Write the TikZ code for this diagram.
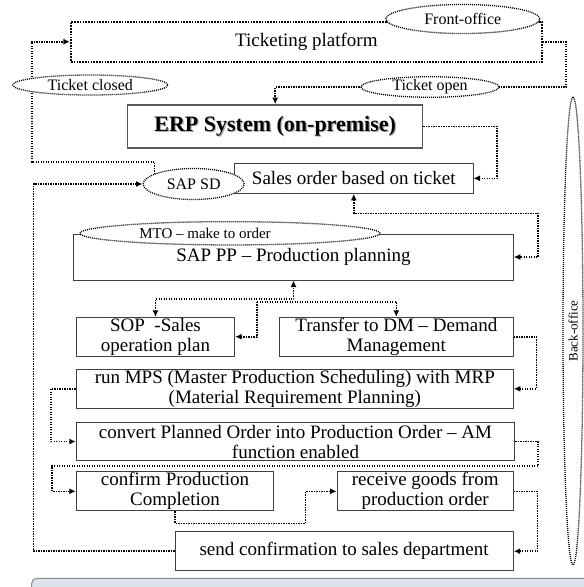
\documentclass[tikz,border=0pt]{standalone}
\usepackage{fontspec}
\setmainfont{Liberation Serif}
\usetikzlibrary{arrows.meta,shapes.geometric,backgrounds}
\definecolor{barfill}{RGB}{220,227,236}
\begin{document}
\begin{tikzpicture}[x=1pt,y=-1pt,
  con/.style={line width=1.6pt, dash pattern=on 1.4pt off 1.1pt, black},
  arr/.style={con, -{Latex[length=6.5pt,width=6pt]}},
  arrb/.style={con, {Latex[length=6.5pt,width=6pt]}-{Latex[length=6.5pt,width=6pt]}},
  box/.style={rectangle, draw=black!75, line width=1pt, fill=white, inner sep=0pt, align=center, font=\fontsize{19}{20}\selectfont},
  oval/.style={ellipse, draw=black, fill=white, line width=1.3pt, dash pattern=on 1pt off 1pt, inner sep=0pt, font=\fontsize{16}{18}\selectfont},
]
\useasboundingbox (0,0) rectangle (584,587);

% nodes
\node[box, draw=black, line width=2pt, dash pattern=on 1.6pt off 1.2pt, minimum width=471pt, minimum height=40pt] (tp) at (306.4,41.7) {Ticketing platform};
\node[oval, minimum width=154pt, minimum height=29pt] (fo) at (462.8,19) {Front-office};
\node[oval, minimum width=155pt, minimum height=20pt] (tc) at (90.3,85) {Ticket closed};
\node[oval, minimum width=138pt, minimum height=20pt] (to) at (430,87) {Ticket open};
\node[box, draw=black!65, line width=1.4pt, minimum width=295pt, minimum height=43pt, font=\fontsize{22}{24}\selectfont\bfseries] (erp) at (275.2,126.4)
  {\makebox[0pt][l]{\hspace{1.2pt}\raisebox{-1.2pt}{\color{black!30}ERP System (on-premise)}}ERP System (on-premise)};
\node[box, minimum width=238.4pt, minimum height=30pt] (so) at (353.8,178.3) {Sales order based on ticket};
\node[oval, minimum width=101pt, minimum height=31pt] (sd) at (193.7,184) {SAP SD};
\node[box, minimum width=439.5pt, minimum height=46pt] (pp) at (293.5,257) {SAP PP – Production planning};
\node[oval, font=\fontsize{15}{17}\selectfont, minimum width=300pt, minimum height=23.3pt] (mto) at (230,233.3) {MTO – make to order\hspace*{50pt}};
\node[box, minimum width=158.3pt, minimum height=38.7pt] (sop) at (155.5,336.7) {SOP\ \ -Sales\\operation plan};
\node[box, minimum width=234pt, minimum height=38.7pt] (dm) at (396.3,336.7) {Transfer to DM – Demand\\Management};
\node[box, minimum width=437pt, minimum height=39pt] (mps) at (294.8,388.8) {run MPS (Master Production Scheduling) with MRP\\(Material Requirement Planning)};
\node[box, minimum width=438.4pt, minimum height=38.4pt] (conv) at (295.5,441.5) {convert Planned Order into Production Order – AM\\function enabled};
\node[box, minimum width=197.4pt, minimum height=39.3pt] (conf) at (175,491.3) {confirm Production\\Completion};
\node[box, minimum width=176.1pt, minimum height=39.3pt] (recv) at (425.2,491.3) {receive goods from\\production order};
\node[box, minimum width=338.2pt, minimum height=39pt] (send) at (344.1,551.2) {send confirmation to sales department};
\node[oval, font=\fontsize{13}{15}\selectfont, rotate=90, minimum width=468pt, minimum height=20pt] (bo) at (573,331) {Back-office};

% connectors
\begin{scope}[on background layer]
\coordinate (a1) at (154.6,161.7);
\coordinate (a2) at (31.7,41.7);
\draw[arr] (sd.center -| a1) -- (a1) -| (a2) -- (tp.west);
\coordinate (b1) at (566.1,41.7);
\draw[arr] (tp.east) -- (b1) |- (to.center) -| (erp.north);
\coordinate (c1) at (497.2,126.4);
\draw[arr] (erp.east) -- (c1) |- (so.east);
\coordinate (d1) at (538.2,213.3);
\draw[arrb] (so.south) |- (d1) |- (pp.east);
\coordinate (e1) at (293.5,299);
\draw[arrb] (sop.north) |- (e1) -- (pp.south);
\coordinate (e2) at (257,301.7);
\draw[arr] (e2) -| (dm.north);
\draw[arr] (e2) |- (sop.east);
\coordinate (f1) at (536.3,336.7);
\draw[arr] (dm.east) -- (f1) |- (mps.east);
\coordinate (g1) at (51,388.8);
\draw[arr] (mps.west) -- (g1) |- (conv.west);
\coordinate (h1) at (538.2,441.5);
\coordinate (h2) at (52.1,465.7);
\draw[arr] (conv.east) -- (h1) |- (h2) |- (conf.west);
\coordinate (i1) at (305.4,523.3);
\draw[arr] (conf.south) |- (i1) |- (recv.west);
\coordinate (k1) at (537.4,491.3);
\draw[arr] (recv.east) -- (k1) |- (send.east);
\coordinate (m1) at (33.5,551.2);
\draw[arr] (send.west) -- (m1) |- (sd.west);
\end{scope}

% bottom bar
\begin{scope}
\clip (0,0) rectangle (584,587);
\draw[draw=black!45, line width=1pt, fill=barfill, rounded corners=5pt] (31.7,600) -- (31.7,578.3) -- (620,578.3) -- (620,600);
\end{scope}
\end{tikzpicture}
\end{document}
